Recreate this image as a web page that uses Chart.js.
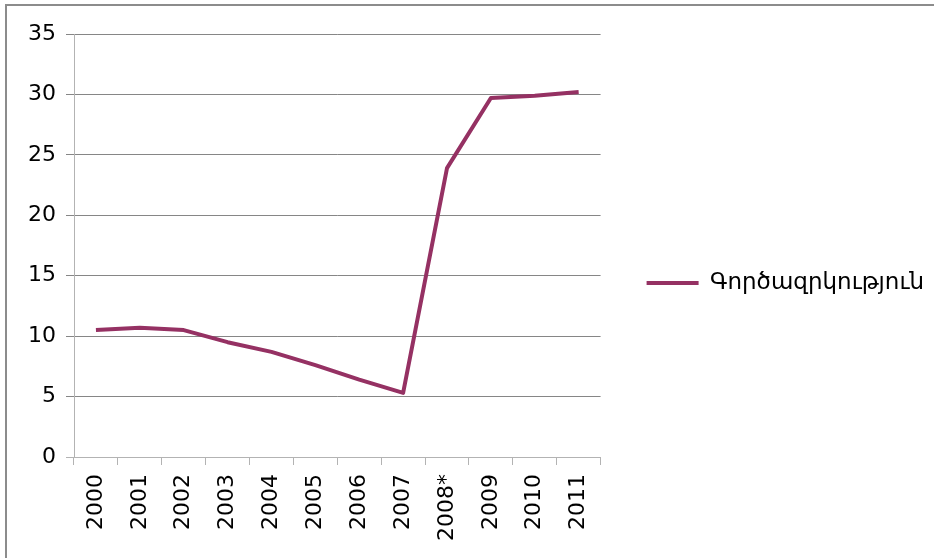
<!DOCTYPE html>
<html>
<head>
<meta charset="utf-8">
<script src="https://cdn.jsdelivr.net/npm/chart.js@4"></script>
<style>
  body { margin: 0; background: #fff; overflow: hidden; }
  #frame { position: absolute; left: 5px; top: 4px; width: 1000px; height: 1000px; border: 2px solid #8c8c8c; }
  canvas { position: absolute; left: 0; top: 0; }
</style>
</head>
<body>
<div id="frame"></div>
<canvas id="myChart" width="934" height="558"></canvas>
<script>
// data
var years = ['2000', '2001', '2002', '2003', '2004', '2005', '2006', '2007', '2008*', '2009', '2010', '2011'];
var unemployment = [10.5, 10.7, 10.5, 9.5, 8.7, 7.6, 6.4, 5.3, 23.9, 29.7, 29.9, 30.2];
var seriesName = 'Գործազրկություն';
var yTicks = [0, 5, 10, 15, 20, 25, 30, 35];

var lineColor = '#953163';
var axisGray = '#b3b3b3';
var gridGray = '#868686';
var font = { family: 'DejaVu Sans', size: 22 };

var ctx = document.getElementById('myChart').getContext('2d');
var chart = new Chart(ctx, {
    type: 'line',
    data: {
        labels: years,
        datasets: [{
            label: seriesName,
            data: unemployment,
            borderColor: lineColor,
            backgroundColor: lineColor,
            borderWidth: 4,
            borderJoinStyle: 'round',
            pointRadius: 0,
            tension: 0
        }]
    },
    options: {
        responsive: false,
        animation: false,
        layout: { padding: { top: 8, left: 0, right: 0, bottom: 0 } },
        plugins: {
            tooltip: { enabled: false },
            // blank spacer above the plot only, so the legend stays centred lower
            title: {
                display: true,
                text: ' ',
                fullSize: false,
                font: { size: 10 },
                padding: { top: 0, bottom: 14 }
            },
            legend: {
                position: 'right',
                maxWidth: 340,
                labels: {
                    usePointStyle: true,
                    pointStyle: 'line',
                    pointStyleWidth: 52,
                    padding: 46,
                    color: '#000',
                    font: { family: 'DejaVu Sans', size: 23 }
                }
            }
        },
        scales: {
            x: {
                offset: true,
                grid: { offset: true, drawOnChartArea: false, color: axisGray, tickLength: 8 },
                border: { color: axisGray },
                ticks: { minRotation: 90, maxRotation: 90, autoSkip: false, padding: 9, color: '#000', font: font },
                afterFit: function (scale) { scale.height = 101; }
            },
            y: {
                min: yTicks[0],
                max: yTicks[yTicks.length - 1],
                ticks: { stepSize: yTicks[1] - yTicks[0], padding: 10, color: '#000', font: font },
                grid: {
                    tickLength: 8,
                    color: function (c) { return c.tick && c.tick.value === 0 ? axisGray : gridGray; }
                },
                border: { color: axisGray },
                afterFit: function (scale) { scale.width = 74; }
            }
        }
    }
});
</script>
</body>
</html>
